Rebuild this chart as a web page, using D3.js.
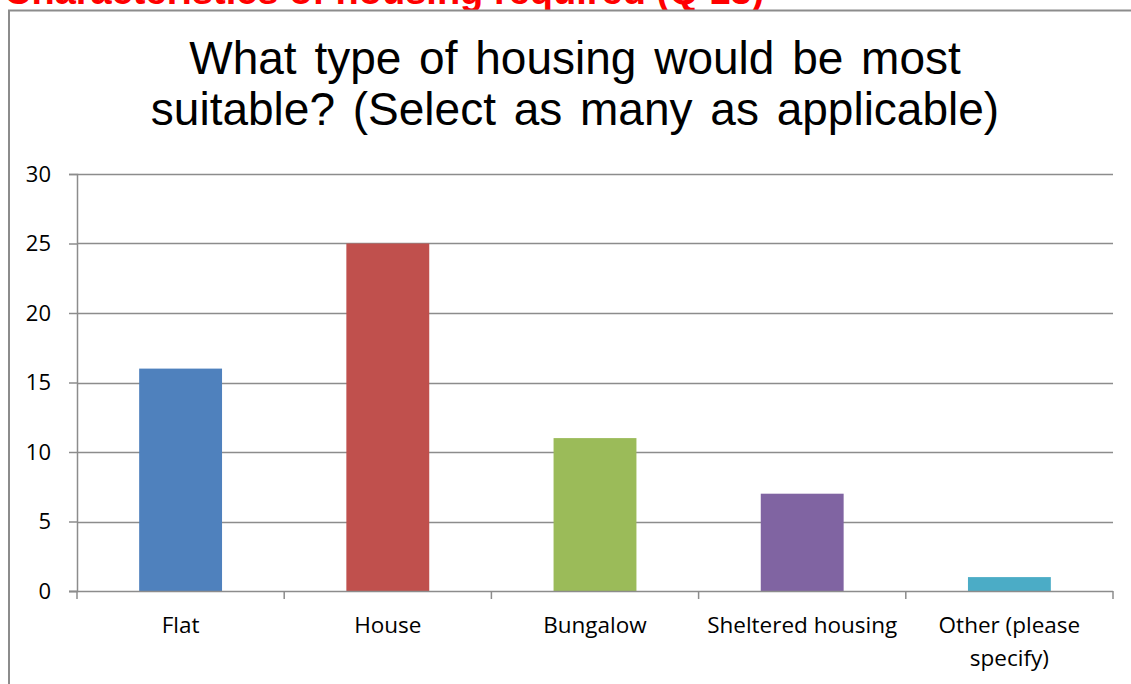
<!DOCTYPE html>
<html>
<head>
<meta charset="utf-8">
<script src="https://cdn.jsdelivr.net/npm/d3@7"></script>
<style>
  html, body { margin: 0; padding: 0; background: #fff; }
  svg { display: block; }
</style>
</head>
<body>
<svg id="chart" width="1131" height="684"></svg>
<script>
const categories = ["Flat", "House", "Bungalow", "Sheltered housing", "Other (please specify)"];
const categoryLines = [["Flat"], ["House"], ["Bungalow"], ["Sheltered housing"], ["Other (please", "specify)"]];
const values = [16, 25, 11, 7, 1];
const barColors = ["#4F81BD", "#C0504D", "#9BBB59", "#8064A2", "#4BACC6"];
const yTicks = [0, 5, 10, 15, 20, 25, 30];
const titleLines = ["What type of housing would be most", "suitable? (Select as many as applicable)"];
const heading = "Characteristics of housing required (Q 13)";

const svg = d3.select("#chart");
const labelFont = "'Open Sans', 'Noto Sans', sans-serif";

// Section heading above the chart frame
svg.append("text")
  .attr("x", 4).attr("y", 4)
  .attr("font-family", "'Liberation Sans', Arial, sans-serif")
  .attr("font-weight", "bold")
  .attr("font-size", 38)
  .attr("fill", "#FF0000")
  .text(heading);

// Chart frame
svg.append("rect")
  .attr("x", 9).attr("y", 10.5)
  .attr("width", 1140).attr("height", 700)
  .attr("fill", "#fff")
  .attr("stroke", "#8c8c8c")
  .attr("stroke-width", 2);

// Chart title
svg.append("text")
  .attr("text-anchor", "middle")
  .attr("font-family", "'Liberation Sans', Arial, sans-serif")
  .attr("font-size", 46)
  .attr("word-spacing", 5)
  .attr("fill", "#000")
  .selectAll("tspan")
  .data(titleLines)
  .join("tspan")
  .attr("x", 575)
  .attr("y", (d, i) => 74 + i * 51)
  .text(d => d);

const plot = { left: 77, right: 1113, top: 174, bottom: 591 };

const x = d3.scaleBand()
  .domain(categories)
  .range([plot.left, plot.right])
  .paddingInner(0.6)
  .paddingOuter(0.3);

const xOuter = d3.scaleBand()
  .domain(categories)
  .range([plot.left, plot.right])
  .padding(0);

const y = d3.scaleLinear()
  .domain([0, 30])
  .range([plot.bottom, plot.top]);

// Horizontal gridlines
svg.append("g")
  .selectAll("line")
  .data(yTicks.filter(d => d > 0))
  .join("line")
  .attr("x1", plot.left).attr("x2", plot.right)
  .attr("y1", d => Math.round(y(d)) + 0.5)
  .attr("y2", d => Math.round(y(d)) + 0.5)
  .attr("stroke", "#8c8c8c")
  .attr("stroke-width", 1.5);

// Bars
svg.append("g")
  .selectAll("rect")
  .data(categories)
  .join("rect")
  .attr("x", d => x(d))
  .attr("width", x.bandwidth())
  .attr("y", (d, i) => y(values[i]))
  .attr("height", (d, i) => y(0) - y(values[i]))
  .attr("fill", (d, i) => barColors[i]);

// Y axis
const yAxis = d3.axisLeft(y)
  .tickValues(yTicks)
  .tickSize(8)
  .tickPadding(18)
  .tickFormat(d3.format("d"));

const gy = svg.append("g")
  .attr("transform", `translate(${plot.left},0)`)
  .call(yAxis);
gy.select(".domain").attr("stroke", "#8c8c8c").attr("stroke-width", 1.5);
gy.selectAll(".tick line").attr("stroke", "#8c8c8c").attr("stroke-width", 1.5);
gy.selectAll(".tick text")
  .attr("font-family", labelFont)
  .attr("font-size", 22)
  .attr("fill", "#000");

// X axis baseline and category boundary ticks
const xAxisG = svg.append("g");
xAxisG.append("line")
  .attr("x1", plot.left - 8).attr("x2", plot.right)
  .attr("y1", plot.bottom + 0.5).attr("y2", plot.bottom + 0.5)
  .attr("stroke", "#8c8c8c").attr("stroke-width", 1.5);

const boundaries = categories.map(c => xOuter(c)).concat([plot.right]);
xAxisG.selectAll("line.bt")
  .data(boundaries)
  .join("line")
  .attr("class", "bt")
  .attr("x1", d => d).attr("x2", d => d)
  .attr("y1", plot.bottom).attr("y2", plot.bottom + 8)
  .attr("stroke", "#8c8c8c").attr("stroke-width", 1.5);

// Category labels
const labels = xAxisG.selectAll("text.cat")
  .data(categories)
  .join("text")
  .attr("class", "cat")
  .attr("text-anchor", "middle")
  .attr("font-family", labelFont)
  .attr("font-size", 22.5)
  .attr("fill", "#000");

labels.selectAll("tspan")
  .data((d, i) => categoryLines[i].map(t => ({ t, c: d })))
  .join("tspan")
  .attr("x", d => xOuter(d.c) + xOuter.bandwidth() / 2)
  .attr("y", (d, i) => 633 + i * 33)
  .text(d => d.t);
</script>
</body>
</html>
